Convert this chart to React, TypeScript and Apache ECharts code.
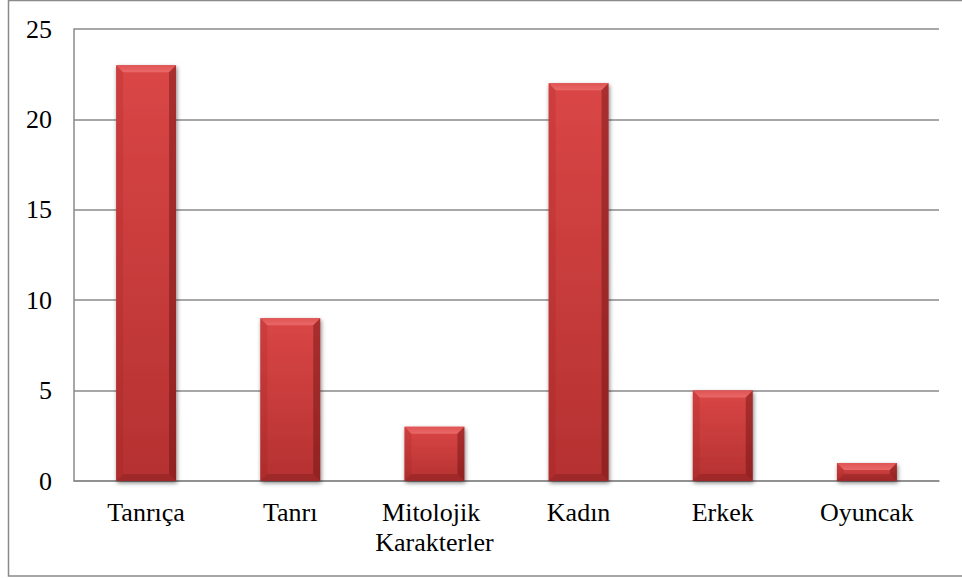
import React, { useEffect, useRef } from "react";
import * as echarts from "echarts";

const categories = ["Tanrıça", "Tanrı", "Mitolojik Karakterler", "Kadın", "Erkek", "Oyuncak"];
const values = [23, 9, 3, 22, 5, 1];
const yMin = 0;
const yMax = 25;
const yStep = 5;

export default function App() {
  const ref = useRef<HTMLDivElement | null>(null);

  useEffect(() => {
    if (!ref.current) return;
    const chart = echarts.init(ref.current, undefined, { renderer: "svg" });
    const font = "Liberation Serif";

    const renderItem = (params: any, api: any) => {
      const i = api.value(0);
      const v = api.value(1);
      const top = api.coord([i, v]);
      const base = api.coord([i, 0]);
      const bw = api.size([1, 0])[0] * 0.416;
      const x0 = top[0] - bw / 2;
      const x1 = x0 + bw;
      const y0 = top[1];
      const y1 = base[1];
      const h = y1 - y0;
      const b = Math.min(7, h / 2, bw / 2);
      return {
        type: "group",
        children: [
          {
            type: "rect",
            shape: { x: x0, y: y0, width: bw, height: h },
            style: {
              fill: new echarts.graphic.LinearGradient(0, 0, 0, 1, [
                { offset: 0, color: "#da4646" },
                { offset: 1, color: "#b53131" },
              ]),
              shadowBlur: 4,
              shadowColor: "rgba(0,0,0,0.5)",
              shadowOffsetX: 1,
              shadowOffsetY: 2,
            },
          },
          {
            type: "polygon",
            shape: { points: [[x0, y0], [x1, y0], [x1 - b, y0 + b], [x0 + b, y0 + b]] },
            style: {
              fill: new echarts.graphic.LinearGradient(0, 0, 0, 1, [
                { offset: 0, color: "#e05454" },
                { offset: 1, color: "#e96868" },
              ]),
            },
          },
          {
            type: "polygon",
            shape: { points: [[x0, y0], [x0 + b, y0 + b], [x0 + b, y1 - b], [x0, y1]] },
            style: { fill: "rgba(140,20,20,0.15)" },
          },
          {
            type: "polygon",
            shape: { points: [[x1, y0], [x1, y1], [x1 - b, y1 - b], [x1 - b, y0 + b]] },
            style: { fill: "rgba(90,10,10,0.38)" },
          },
          {
            type: "polygon",
            shape: { points: [[x0, y1], [x0 + b, y1 - b], [x1 - b, y1 - b], [x1, y1]] },
            style: { fill: "rgba(90,10,10,0.25)" },
          },
        ],
      };
    };

    chart.setOption({
      animation: false,
      backgroundColor: "#ffffff",
      textStyle: { fontFamily: font },
      graphic: [
        {
          type: "rect",
          z: -10,
          shape: { x: 8.5, y: 0.5, width: 960, height: 575.5 },
          style: { fill: "none", stroke: "#8a8a8a", lineWidth: 1.5 },
        },
      ],
      grid: { left: 74, right: 23, top: 29, bottom: 97, containLabel: false },
      xAxis: {
        type: "category",
        data: categories,
        axisLine: { show: true, lineStyle: { color: "#8a8a8a", width: 1.5 } },
        axisTick: { show: false },
        axisLabel: {
          interval: 0,
          color: "#000",
          fontFamily: font,
          fontSize: 26,
          lineHeight: 30,
          margin: 16,
          width: 140,
          overflow: "break",
        },
      },
      yAxis: {
        type: "value",
        min: yMin,
        max: yMax,
        interval: yStep,
        axisLine: { show: true, lineStyle: { color: "#8a8a8a", width: 1.5 } },
        axisTick: { show: false },
        splitLine: { show: true, lineStyle: { color: "#8a8a8a", width: 1.5 } },
        axisLabel: { color: "#000", fontFamily: font, fontSize: 26, margin: 22 },
      },
      series: [
        {
          type: "custom",
          renderItem,
          data: categories.map((c, i) => [i, values[i]]),
          encode: { x: 0, y: 1 },
          z: 5,
        },
      ],
    });
    return () => chart.dispose();
  }, []);

  return (
    <div
      ref={ref}
      style={{ position: "absolute", left: 0, top: 0, width: 962, height: 578 }}
    />
  );
}
